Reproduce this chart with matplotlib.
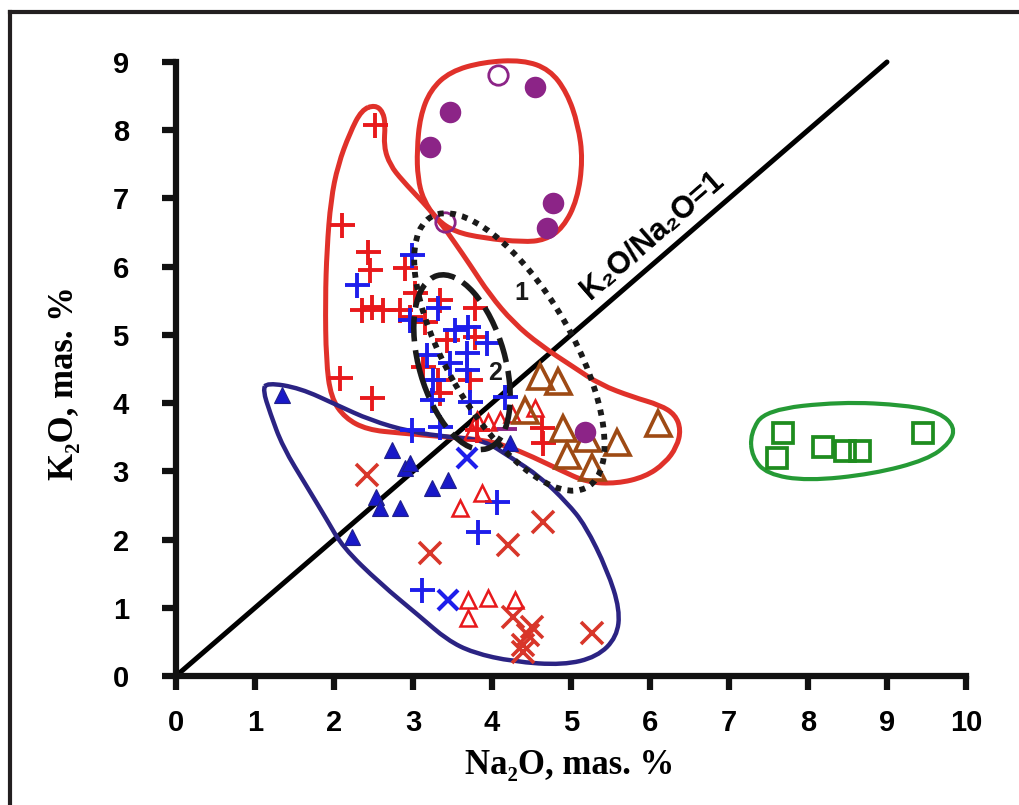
import matplotlib
matplotlib.use('Agg')
import matplotlib.pyplot as plt
import matplotlib.transforms as mtransforms
from matplotlib.patches import Ellipse, PathPatch
from matplotlib.path import Path
from matplotlib.lines import Line2D

# ---- data (Na2O, K2O in mas. %) ----
red_plus_x = [2.52, 2.10, 2.43, 2.46, 2.90, 2.35, 2.48, 2.62, 2.84, 3.03, 2.96, 3.34, 3.78,
              3.15, 3.43, 3.78, 3.13, 3.32, 3.72, 3.34, 2.08, 2.48, 3.81, 4.63, 4.65]
red_plus_y = [8.08, 6.61, 6.22, 5.95, 5.98, 5.37, 5.41, 5.37, 5.37, 5.62, 5.26, 5.51, 5.40,
              5.19, 4.93, 4.97, 4.53, 4.34, 4.34, 4.15, 4.37, 4.08, 3.61, 3.64, 3.42]

blue_plus_x = [2.99, 2.29, 2.96, 3.32, 3.53, 3.70, 3.94, 3.18, 3.47, 3.68, 3.25, 3.68, 3.24,
               3.72, 4.16, 3.34, 2.99, 4.06, 3.82, 3.11]
blue_plus_y = [6.17, 5.73, 5.22, 5.40, 5.07, 5.12, 4.88, 4.71, 4.59, 4.74, 4.34, 4.49, 4.05,
               4.02, 4.09, 3.65, 3.61, 2.55, 2.11, 1.26]

blue_x_x = [3.68, 3.44]
blue_x_y = [3.20, 1.11]

red_x_x = [2.42, 3.22, 4.20, 4.65, 4.27, 4.51, 4.46, 4.39, 4.39, 5.27]
red_x_y = [2.95, 1.80, 1.92, 2.26, 0.87, 0.72, 0.60, 0.45, 0.35, 0.63]

blue_tri_x = [1.34, 2.73, 2.90, 2.96, 2.53, 2.58, 2.84, 2.23, 3.24, 3.44, 4.23]
blue_tri_y = [4.12, 3.31, 3.05, 3.12, 2.63, 2.46, 2.46, 2.04, 2.76, 2.87, 3.42]

red_tri_x = [3.81, 3.95, 4.10, 4.25, 4.54, 3.75, 3.87, 3.59, 3.70, 3.95, 4.29, 3.70]
red_tri_y = [3.75, 3.72, 3.75, 3.84, 3.93, 3.58, 2.68, 2.46, 1.11, 1.14, 1.11, 0.85]

brown_tri_x = [4.61, 4.84, 4.42, 4.90, 5.20, 5.58, 4.95, 5.27, 6.10]
brown_tri_y = [4.40, 4.33, 3.90, 3.64, 3.49, 3.43, 3.24, 3.06, 3.71]

purple_dot_x = [3.22, 3.47, 4.54, 4.77, 4.70, 5.18]
purple_dot_y = [7.76, 8.27, 8.64, 6.94, 6.57, 3.58]

purple_ring_x = [4.08, 3.41]
purple_ring_y = [8.81, 6.66]

purple_dash_x = [4.19]
purple_dash_y = [3.62]

green_sq_x = [7.68, 7.61, 8.19, 8.47, 8.66, 9.46]
green_sq_y = [3.56, 3.20, 3.36, 3.30, 3.30, 3.56]

# hand-drawn field outlines (control points)
red_field = [(2.52, 8.37), (2.62, 8.27), (2.65, 8.08), (2.63, 7.76), (2.71, 7.49), (2.86, 7.27),
             (3.13, 6.94), (3.34, 6.66), (3.53, 6.35), (3.72, 6.03), (3.97, 5.59), (4.27, 5.18),
             (4.61, 4.85), (5.03, 4.53), (5.37, 4.27), (5.78, 4.09), (6.13, 3.97), (6.32, 3.83),
             (6.39, 3.61), (6.34, 3.36), (6.19, 3.12), (5.94, 2.92), (5.58, 2.82), (5.20, 2.84),
             (4.86, 3.02), (4.52, 3.21), (4.19, 3.37), (3.89, 3.46), (3.47, 3.50), (2.84, 3.56),
             (2.42, 3.61), (2.14, 3.78), (1.96, 4.08), (1.90, 4.63), (1.89, 5.51), (1.91, 6.25),
             (1.96, 6.98), (2.05, 7.49), (2.20, 7.96), (2.35, 8.30)]
purple_field = [(3.13, 6.98), (3.30, 6.69), (3.53, 6.51), (3.89, 6.42), (4.39, 6.36), (4.67, 6.39),
                (4.90, 6.57), (5.08, 6.98), (5.15, 7.57), (5.09, 8.08), (4.95, 8.55), (4.73, 8.89),
                (4.39, 9.03), (3.89, 9.00), (3.47, 8.86), (3.22, 8.59), (3.09, 8.20), (3.05, 7.71),
                (3.06, 7.30)]
navy_field = [(1.15, 4.30), (1.57, 4.22), (2.04, 3.97), (2.46, 3.75), (2.96, 3.58), (3.47, 3.50),
              (3.89, 3.46), (4.23, 3.21), (4.61, 2.92), (4.95, 2.54), (5.18, 2.21), (5.46, 1.55),
              (5.62, 0.97), (5.58, 0.57), (5.33, 0.28), (4.90, 0.16), (4.27, 0.21), (3.76, 0.34),
              (3.43, 0.53), (3.09, 0.87), (2.58, 1.36), (2.11, 1.89), (1.91, 2.29), (1.66, 2.77),
              (1.35, 3.36), (1.19, 3.86), (1.10, 4.19)]
green_field = [(7.27, 3.56), (7.46, 3.90), (8.41, 4.02), (9.25, 3.97), (9.67, 3.86), (9.86, 3.65),
               (9.80, 3.42), (9.51, 3.17), (8.82, 2.96), (7.99, 2.86), (7.48, 2.96), (7.29, 3.21)]

ratio_line_x = [0, 9]
ratio_line_y = [0, 9]


def smooth_loop(pts):
    n = len(pts)
    mids = [((pts[i][0] + pts[(i + 1) % n][0]) / 2, (pts[i][1] + pts[(i + 1) % n][1]) / 2)
            for i in range(n)]
    verts = [mids[-1]]
    codes = [Path.MOVETO]
    for i in range(n):
        verts += [pts[i], mids[i]]
        codes += [Path.CURVE3, Path.CURVE3]
    return Path(verts, codes)


fig = plt.figure(figsize=(10.2, 8.05), dpi=100)
W, H = 1020, 805
ax = fig.add_axes([176 / W, (H - 676) / H, 790 / W, 614 / H])
ax.set_xlim(0, 10)
ax.set_ylim(0, 9)

# frame of the figure
fig.add_artist(Line2D([10 / W, 10 / W], [0, 1 - 12 / H], color='#231f20', lw=3))
fig.add_artist(Line2D([10 / W, 1], [1 - 12 / H, 1 - 12 / H], color='#231f20', lw=3))

for s in ['top', 'right']:
    ax.spines[s].set_visible(False)
for s in ['left', 'bottom']:
    ax.spines[s].set_linewidth(4.5)
    ax.spines[s].set_color('#111111')
    ax.spines[s].set_capstyle('projecting')

ax.set_xticks(range(0, 11))
ax.set_yticks(range(0, 10))
ax.tick_params(direction='out', length=10, width=4.5, labelsize=21, color='#111111')
ax.tick_params(axis='x', pad=14)
ax.tick_params(axis='y', pad=24)
for lab in ax.get_xticklabels() + ax.get_yticklabels():
    lab.set_fontfamily('Liberation Sans')
    lab.set_fontweight('bold')

# K2O/Na2O = 1 line
ax.plot(ratio_line_x, ratio_line_y, color='black', lw=3.6, solid_capstyle='round', zorder=2, clip_on=False)

# fields
for pts, col, lw in [(red_field, '#E0312A', 3.6), (purple_field, '#E0312A', 3.6),
                     (navy_field, '#2B2383', 3.2), (green_field, '#259A35', 3.0)]:
    ax.add_patch(PathPatch(smooth_loop(pts), fill=False, edgecolor=col, lw=lw, zorder=2, clip_on=False))

# markers
ax.plot(red_plus_x, red_plus_y, '+', color='#E8191C', ms=18, mew=2.8, zorder=3)
ax.plot(blue_plus_x, blue_plus_y, '+', color='#1E1EEB', ms=18, mew=2.8, zorder=3)
ax.plot(red_x_x, red_x_y, 'x', color='#D8362A', ms=16, mew=2.6, zorder=3)
ax.plot(blue_x_x, blue_x_y, 'x', color='#1E1EEB', ms=15, mew=3.0, zorder=3)
ax.plot(blue_tri_x, blue_tri_y, '^', color='#1818C8', mec='#20208A', mew=0.8, ms=12, zorder=3)
ax.plot(red_tri_x, red_tri_y, '^', mfc='none', mec='#E8191C', mew=1.8, ms=11, zorder=3)
ax.plot(brown_tri_x, brown_tri_y, '^', mfc='none', mec='#9E4A14', mew=2.6, ms=18, zorder=3)
ax.plot(purple_dot_x, purple_dot_y, 'o', color='#8C2487', ms=15.5, mew=0, zorder=3)
ax.plot(purple_ring_x, purple_ring_y, 'o', mfc='none', mec='#8C2487', mew=2.0, ms=14, zorder=3, clip_on=False)
ax.plot(purple_dash_x, purple_dash_y, '_', color='#8C2487', ms=14, mew=2.8, zorder=3)
ax.plot(green_sq_x, green_sq_y, 's', mfc='none', mec='#1E8C1E', mew=2.7, ms=15, zorder=3)

# dotted (1) and dashed (2) fields, sized in screen pixels
px = mtransforms.Affine2D().scale(1 / 79.0, 1 / 68.2)
e1 = Ellipse((0, 0), 312, 126, angle=-60, fill=False, edgecolor='#1a1a1a', lw=4.2,
             linestyle=(0, (1, 1.1)), zorder=4,
             transform=px + mtransforms.Affine2D().translate(4.22, 4.75) + ax.transData)
e1.set_capstyle('butt')
ax.add_patch(e1)
e2 = Ellipse((0, 0), 180, 86, angle=-74, fill=False, edgecolor='#1a1a1a', lw=4.0,
             linestyle=(0, (4.5, 1.6)), zorder=4,
             transform=px + mtransforms.Affine2D().translate(3.62, 4.60) + ax.transData)
e2.set_capstyle('butt')
ax.add_patch(e2)

ax.text(4.37, 5.62, '1', fontsize=18, fontweight='bold', family='Liberation Sans',
        color='#1a1a1a', ha='center', va='center', zorder=5)
ax.text(4.04, 4.44, '2', fontsize=18, fontweight='bold', family='Liberation Sans',
        color='#1a1a1a', ha='center', va='center', zorder=5)
ax.text(6.03, 6.45, 'K₂O/Na₂O=1', fontsize=22, fontweight='bold',
        family=['Liberation Sans', 'DejaVu Sans'], rotation=41, rotation_mode='anchor',
        ha='center', va='center', zorder=5)

fig.text(570 / W, 1 - 765 / H, 'Na₂O, mas. %', fontsize=25, fontweight='bold',
         family=['Liberation Serif', 'DejaVu Serif'], ha='center', va='center')
fig.text(65 / W, 1 - 383 / H, 'K₂O, mas. %', fontsize=25, fontweight='bold',
         family=['Liberation Serif', 'DejaVu Serif'], ha='center', va='center', rotation=90)

fig.savefig('out.png', dpi=100)
